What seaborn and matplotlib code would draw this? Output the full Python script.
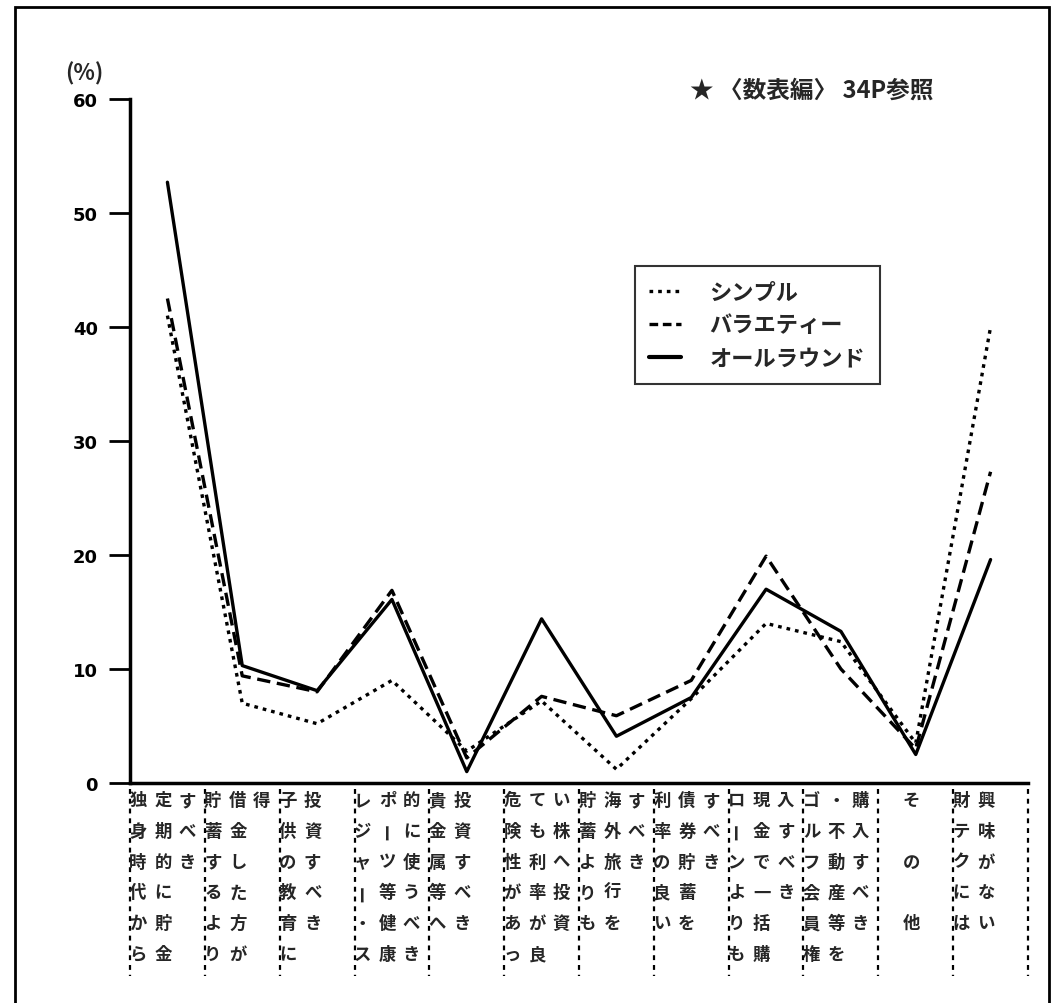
import numpy as np
import pandas as pd
import matplotlib
matplotlib.use("Agg")
import matplotlib.pyplot as plt
import matplotlib.transforms as mtransforms
from matplotlib.patches import Rectangle
from matplotlib.lines import Line2D
import seaborn as sns

# ---------------- data ----------------
categories = [
    "独身時代から定期的に貯金すべき",
    "貯蓄するより借金した方が得",
    "子供の教育に投資すべき",
    "レジャー・スポーツ等健康的に使うべき",
    "貴金属等へ投資すべき",
    "危険性があっても利率が良い株へ投資",
    "貯蓄よりも海外旅行をすべき",
    "利率の良い債券貯蓄をすべき",
    "ローンよりも現金で一括購入すべき",
    "ゴルフ会員権・不動産等を購入すべき",
    "その他",
    "財テクには興味がない",
]
# vertical label columns (top-to-bottom text of each column, full-width space = empty cell)
label_columns = [
    ["独身時代から", "定期的に貯金", "すべき"],
    ["貯蓄するより", "借金した方が", "得"],
    ["子供の教育に", "投資すべき"],
    ["レジャー・ス", "ポーツ等健康", "的に使うべき"],
    ["貴金属等へ", "投資すべき"],
    ["危険性があっ", "ても利率が良", "い株へ投資"],
    ["貯蓄よりも", "海外旅行を", "すべき"],
    ["利率の良い", "債券貯蓄を", "すべき"],
    ["ローンよりも", "現金で一括購", "入すべき"],
    ["ゴルフ会員権", "・不動産等を", "購入すべき"],
    ["そ　の　他"],
    ["財テクには", "興味がない"],
]
series_names = ["シンプル", "バラエティー", "オールラウンド"]
simple   = [41.0, 7.0, 5.2, 9.0, 2.8, 7.2, 1.2, 7.4, 14.0, 12.4, 3.5, 40.0]
variety  = [42.5, 9.4, 8.0, 16.9, 2.2, 7.6, 5.9, 9.0, 19.9, 10.0, 3.0, 27.3]
allround = [52.7, 10.3, 8.1, 16.1, 1.0, 14.4, 4.1, 7.5, 17.0, 13.3, 2.5, 19.6]
y_ticks = [0, 10, 20, 30, 40, 50, 60]
title_text = "★ 〈数表編〉 34P参照"
unit_text = "(%)"

# ---------------- style ----------------
sns.set_theme(style="white")
plt.rcParams["font.family"] = ["Noto Sans CJK JP", "DejaVu Sans"]

W, H = 1053, 1004
fig = plt.figure(figsize=(W / 100, H / 100), dpi=100)
ax_l, ax_r, ax_t, ax_b = 130, 1028, 100, 784
ax = fig.add_axes([ax_l / W, 1 - ax_b / H, (ax_r - ax_l) / W, (ax_b - ax_t) / H])

df = pd.DataFrame({
    "idx": np.tile(np.arange(len(categories)), 3),
    "value": simple + variety + allround,
    "series": np.repeat(series_names, len(categories)),
})

lw = 2.4
dashes = {"シンプル": (1.1, 1.5), "バラエティー": (4.0, 2.0), "オールラウンド": ""}
sns.lineplot(data=df, x="idx", y="value", style="series", style_order=series_names,
             dashes=dashes, color="black", linewidth=lw, ax=ax, legend=False)

ax.set_xlim(-0.5, len(categories) - 0.5)
ax.set_ylim(0, 60)
ax.set_xticks([])
ax.set_yticks(y_ticks)
ax.set_yticklabels([str(t) for t in y_ticks], fontfamily="DejaVu Sans",
                   fontweight="bold", fontsize=13)
ax.tick_params(axis="y", direction="out", length=15, width=2, pad=8, colors="black", left=True)
ax.set_xlabel("")
ax.set_ylabel("")
for s in ["top", "right"]:
    ax.spines[s].set_visible(False)
for s in ["left", "bottom"]:
    ax.spines[s].set_color("black")
    ax.spines[s].set_linewidth(2.5)

# legend
handles = [
    Line2D([], [], color="black", lw=lw, dashes=(1.1, 1.5)),
    Line2D([], [], color="black", lw=lw, dashes=(2.6, 1.4)),
    Line2D([], [], color="black", lw=lw + 0.6),
]
leg = ax.legend(handles, series_names, loc="upper left",
                bbox_to_anchor=(635 / W, 1 - 267 / H), bbox_transform=fig.transFigure,
                borderaxespad=0, fancybox=False, frameon=True, fontsize=16,
                handlelength=1.4, handletextpad=1.3, labelspacing=0.45,
                borderpad=0.65, prop={"size": 16, "weight": "bold"})
leg.get_frame().set_edgecolor("black")
leg.get_frame().set_linewidth(1.5)

# category separators and vertical labels
trans = mtransforms.blended_transform_factory(ax.transData, ax.transAxes)
axh = ax_b - ax_t
def py2ax(py):
    return (ax_b - py) / axh

bounds = np.arange(-0.5, len(categories), 1.0)
ax.vlines(bounds, py2ax(790), py2ax(977), transform=trans, colors="black",
          linestyles=(0, (2.2, 2.2)), linewidth=1.6, clip_on=False)

col_offsets = [8 / 74.8, 33 / 74.8, 57 / 74.8]
row_y = [801 + 30.8 * k for k in range(6)]
for i, cols in enumerate(label_columns):
    for j, col in enumerate(cols):
        off = col_offsets[1] if len(cols) == 1 else col_offsets[j]
        x = i - 0.5 + off
        for k, ch in enumerate(col):
            if ch == "　":
                continue
            rot = 90 if ch == "ー" else 0
            ax.text(x, py2ax(row_y[k]), ch, transform=trans, ha="center", va="center",
                    fontsize=12.5, fontweight="bold", rotation=rot, clip_on=False)

# texts
fig.text(84 / W, 1 - 74 / H, unit_text, ha="center", va="center", fontsize=16,
         fontweight="bold")
fig.text(690 / W, 1 - 91 / H, title_text, ha="left", va="center", fontsize=17,
         fontweight="bold")

# outer frame of the scanned page
fig.add_artist(Rectangle((15 / W, -0.05), (1049 - 15) / W, 1.05 - 8 / H,
                         transform=fig.transFigure, fill=False, lw=2, ec="black"))

fig.savefig("out.png", dpi=100, facecolor="white")
